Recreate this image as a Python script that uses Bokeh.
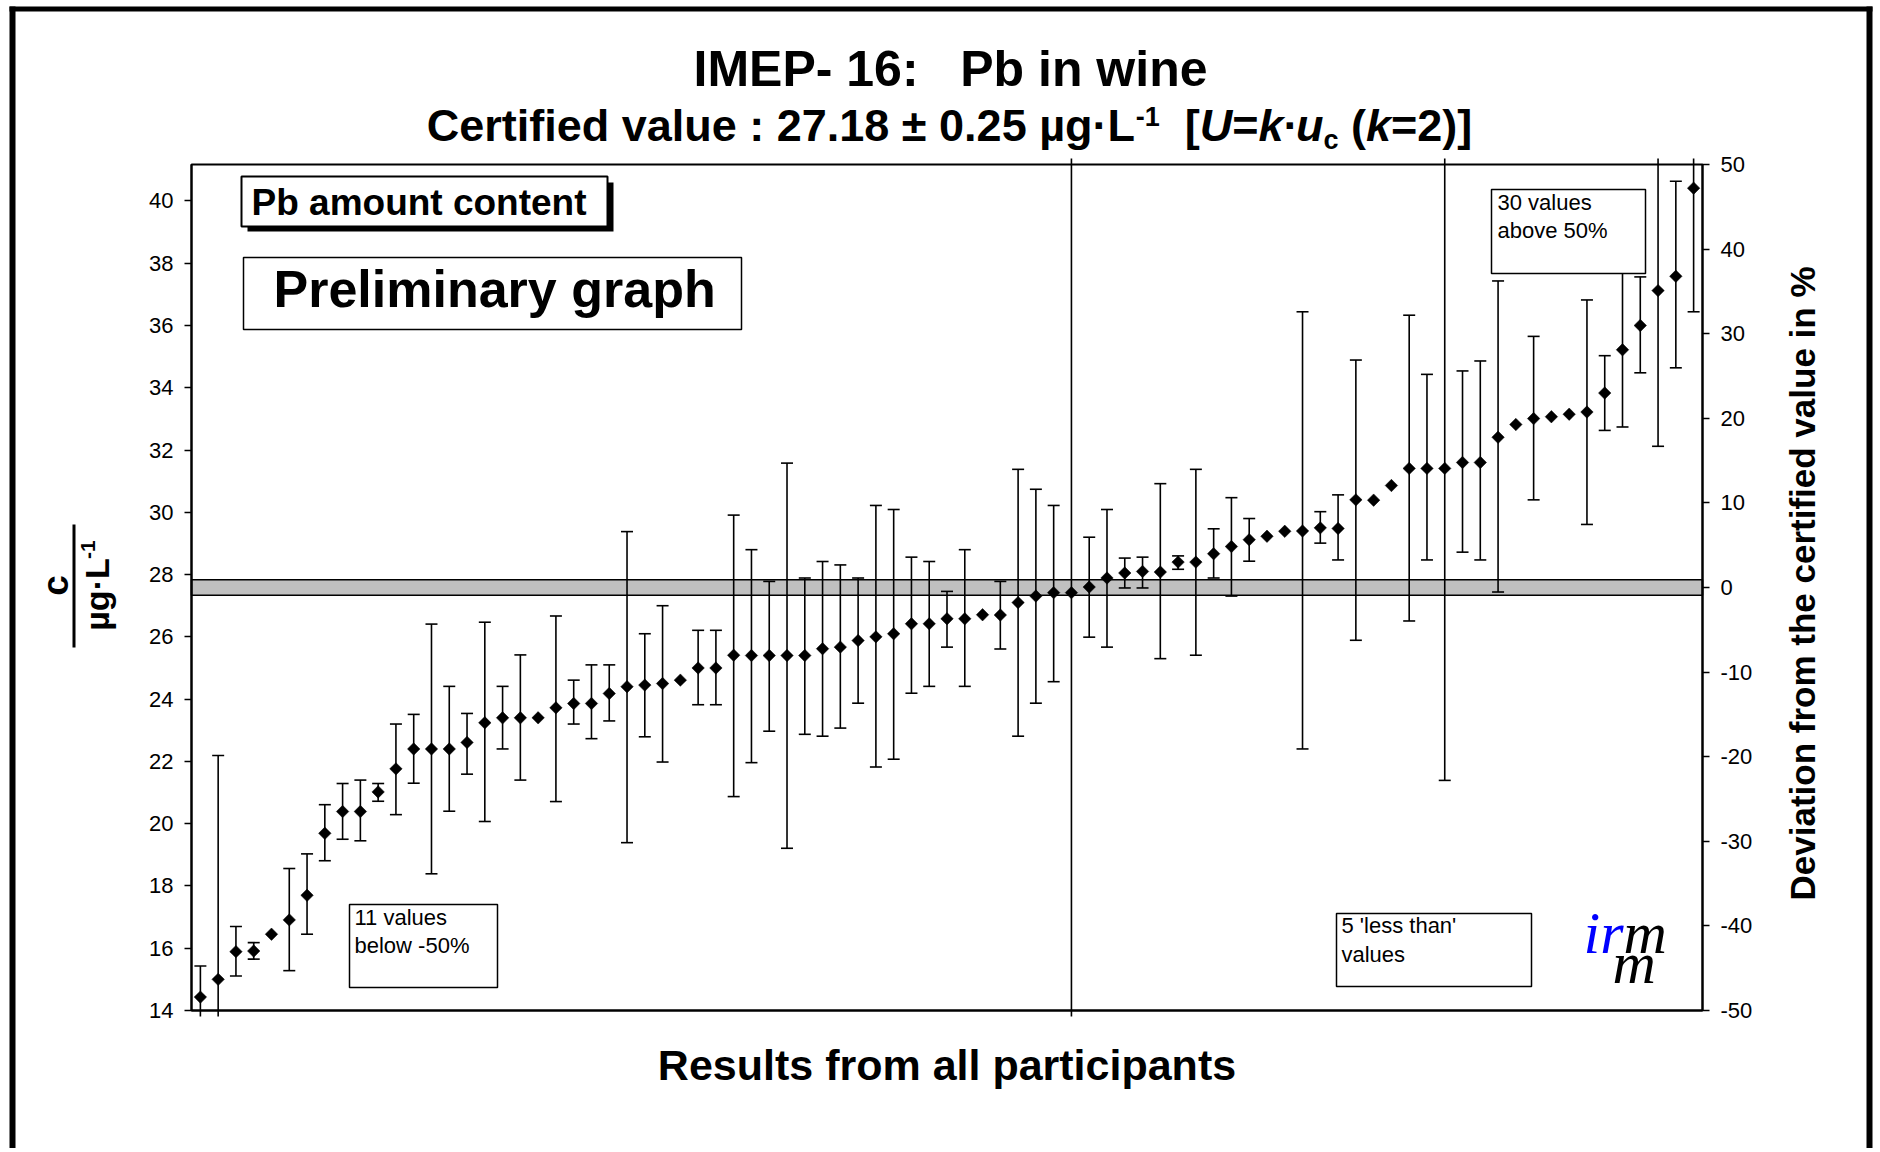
import re
import numpy as np
from bokeh.plotting import figure
from bokeh.models import (Range1d, LinearAxis, FixedTicker, ColumnDataSource,
                          BoxAnnotation, Label)
from bokeh.embed import file_html
from bokeh.resources import INLINE

# ---------------- data ----------------
participant = list(range(1, 86))
value = [14.43, 15.00, 15.89, 15.91, 16.45, 16.91, 17.70, 19.69, 20.39, 20.39,
         21.02, 21.76, 22.40, 22.40, 22.40, 22.61, 23.24, 23.40, 23.40, 23.40,
         23.72, 23.86, 23.86, 24.18, 24.40, 24.45, 24.50, 24.61, 25.00, 25.00,
         25.41, 25.40, 25.40, 25.40, 25.40, 25.62, 25.67, 25.88, 26.00, 26.10,
         26.42, 26.42, 26.58, 26.58, 26.71, 26.70, 27.10, 27.31, 27.42, 27.42,
         27.60, 27.89, 28.05, 28.10, 28.08, 28.40, 28.40, 28.67, 28.90, 29.12,
         29.23, 29.39, 29.40, 29.50, 29.48, 30.40, 30.39, 30.86, 31.41, 31.41,
         31.41, 31.60, 31.60, 32.41, 32.82, 33.01, 33.07, 33.15, 33.22, 33.83,
         35.22, 36.00, 37.12, 37.58, 40.41]
lower = [13.43, 7.80, 15.11, 15.65, None, 15.28, 16.45, 18.81, 19.50, 19.45,
         20.72, 20.29, 21.30, 18.39, 20.40, 21.59, 20.07, 22.40, 21.40, None,
         20.71, 23.20, 22.73, 23.30, 19.39, 22.79, 21.98, None, 23.82, 23.82,
         20.87, 21.96, 22.97, 19.21, 22.87, 22.81, 23.07, 23.87, 21.82, 22.07,
         24.19, 24.41, 25.67, 24.41, None, 25.61, 22.81, 23.87, 24.56, 7.40,
         25.99, 25.67, 27.57, 27.57, 25.30, 28.17, 25.41, 27.89, 27.31, 28.43,
         None, None, 22.40, 29.01, 28.47, 25.89, None, None, 26.51, 28.47,
         21.39, 28.72, 28.47, 27.44, None, 30.40, None, None, 29.61, 32.63,
         32.74, 34.48, 32.12, 34.64, 36.44]
upper = [15.43, 22.19, 16.70, 16.18, None, 18.56, 19.03, 20.61, 21.29, 21.40,
         21.29, 23.20, 23.51, 26.41, 24.41, 23.54, 26.47, 24.41, 25.42, None,
         26.67, 24.61, 25.10, 25.10, 29.38, 26.10, 27.00, None, 26.21, 26.21,
         29.91, 28.80, 27.78, 31.58, 27.89, 28.42, 28.31, 27.89, 30.22, 30.09,
         28.56, 28.42, 27.46, 28.80, None, 27.78, 31.38, 30.74, 30.22, 47.40,
         29.20, 30.09, 28.53, 28.56, 30.92, 28.60, 31.38, 29.47, 30.47, 29.80,
         None, None, 36.44, 30.02, 30.56, 34.89, None, None, 36.33, 34.43,
         41.43, 34.54, 34.86, 37.43, None, 35.65, None, None, 36.82, 35.03,
         37.72, 37.56, 42.12, 40.63, 44.38]
cert_value = 27.18          # µg/L
cert_U = 0.25               # expanded uncertainty, k=2
left_ticks = list(range(14, 41, 2))
right_ticks = list(range(-50, 51, 10))

# ---------------- layout (page pixels; the canvas starts at 0,0) ----------------
W, H = 1874, 1148
FL, FR, FT, FB = 191, 1702, 164, 1010       # plot area edges
XMIN, XMAX = 0.5, 85.5
YMIN, YMAX = 14.0, 41.17
PMIN, PMAX = -50.0, 50.0
SANS = "Liberation Sans"
MID = 0.3465          # (ascent - descent) / 2 of Liberation Sans, in em

# the figure frame fills the canvas; the plot area is bounded by the axes
kx = (FR - FL) / (XMAX - XMIN)
ky = (FB - FT) / (YMAX - YMIN)
kp = (FB - FT) / (PMAX - PMIN)
x_range = Range1d(XMIN - FL / kx, XMAX + (W - FR) / kx)
y_range = Range1d(YMIN - (H - FB) / ky, YMAX + FT / ky)
pct_range = Range1d(PMIN - (H - FB) / kp, PMAX + FT / kp)

p = figure(width=W, height=H, output_backend="svg", toolbar_location=None,
           x_range=x_range, y_range=y_range, min_border=0,
           background_fill_color="white", border_fill_color="white")
p.grid.visible = False
p.outline_line_color = None
p.extra_y_ranges = {"pct": pct_range}


def style_axis(a, ticks):
    a.ticker = FixedTicker(ticks=ticks)
    a.major_label_overrides = {t: str(t) for t in ticks}   # plain hyphen minus
    a.minor_tick_line_color = None
    a.major_tick_out = 7
    a.major_tick_in = 0
    a.major_tick_line_width = 1.5
    a.axis_line_width = 2
    a.major_label_standoff = 11
    a.major_label_text_font = SANS
    a.major_label_text_font_size = "22px"
    a.major_label_text_color = "black"


# left axis (concentration)
ya = p.yaxis[0]
ya.fixed_location = XMIN
ya.bounds = (YMIN, YMAX)
style_axis(ya, left_ticks)

# right axis (% deviation from certified value)
ra = LinearAxis(y_range_name="pct", fixed_location=XMAX, bounds=(PMIN, PMAX))
style_axis(ra, right_ticks)
p.add_layout(ra, "right")

# bottom axis: line + title only
xa = p.xaxis[0]
xa.ticker = FixedTicker(ticks=[])
xa.fixed_location = YMIN
xa.bounds = (XMIN, XMAX)
xa.major_tick_out = 0
xa.major_tick_in = 0
xa.minor_tick_line_color = None
xa.axis_line_width = 2
xa.axis_label = "Results from all participants"
xa.axis_label_text_font = SANS
xa.axis_label_text_font_style = "bold"
xa.axis_label_text_font_size = "43px"
xa.axis_label_text_color = "black"
xa.axis_label_standoff = 30

# certified value band (in % of certified value, on the right axis)
band = 100.0 * cert_U / cert_value
p.add_layout(BoxAnnotation(left=XMIN, right=XMAX, bottom=-band, top=band,
                           y_range_name="pct", fill_color="#C0C0C0",
                           fill_alpha=1.0, line_color="black", line_alpha=1.0,
                           line_width=1.5, level="underlay"))
# plot area border
p.add_layout(BoxAnnotation(left=XMIN, right=XMAX, bottom=YMIN, top=YMAX,
                           fill_alpha=0.0, line_color="black", line_alpha=1.0,
                           line_width=2, level="underlay"))

# error bars, cut a few pixels beyond the plot area like the original
ext = 6.0 / ky
idx = [i for i in range(len(participant)) if lower[i] is not None]
ex = [participant[i] for i in idx]
lo = np.array([lower[i] for i in idx])
hi = np.array([upper[i] for i in idx])
err = ColumnDataSource(dict(x=ex, lo=np.clip(lo, YMIN - ext, YMAX + ext),
                            hi=np.clip(hi, YMIN - ext, YMAX + ext)))
p.segment(x0="x", y0="lo", x1="x", y1="hi", source=err,
          line_color="black", line_width=1.6)
cap_lo = ColumnDataSource(dict(x=[x for x, v in zip(ex, lo) if v >= YMIN],
                               y=[v for v in lo if v >= YMIN]))
cap_hi = ColumnDataSource(dict(x=[x for x, v in zip(ex, hi) if v <= YMAX],
                               y=[v for v in hi if v <= YMAX]))
for src in (cap_lo, cap_hi):
    p.scatter(x="x", y="y", source=src, marker="dash", size=12,
              line_color="black", line_width=1.6)

pts = ColumnDataSource(dict(x=participant, y=value))
p.scatter(x="x", y="y", source=pts, marker="square", angle=np.pi / 4,
          size=8.8, fill_color="black", line_color="black", line_width=0.5)


# ---------------- annotations placed in page pixels ----------------
def keep_spaces(s):
    # SVG collapses runs of blanks: protect leading and repeated spaces
    s = re.sub(r"^ +", lambda m: "\u00a0" * len(m.group()), s)
    return re.sub(r"  +", lambda m: " " + "\u00a0" * (len(m.group()) - 1), s)


def lab(text, X, Y, size, style="normal", font=SANS, align="left",
        color="black", angle=0.0, middle=False):
    """(X, Y) is the baseline anchor unless middle=True."""
    if not middle:
        if angle == 0.0:
            Y = Y - MID * size
        else:                      # rotated 90°: text 'down' is +x
            X = X - MID * size
    p.add_layout(Label(x=X, y=H - Y, x_units="screen", y_units="screen",
                       text=keep_spaces(text), text_font=font,
                       text_font_size=f"{size}px", text_font_style=style,
                       text_align=align, text_baseline="middle",
                       text_color=color, angle=angle))


def box(X0, Y0, X1, Y1, fill="white", line="black", lw=1.5):
    p.add_layout(BoxAnnotation(left=X0, right=X1, top=H - Y0, bottom=H - Y1,
                               left_units="screen", right_units="screen",
                               top_units="screen", bottom_units="screen",
                               fill_color=fill, fill_alpha=1.0,
                               line_color=line, line_alpha=1.0, line_width=lw))


# outer frame of the page
box(9, 6, 15, H + 10, fill="black", line=None)
box(9, 6, 1872, 11, fill="black", line=None)
box(1866, 6, 1872, H + 10, fill="black", line=None)

# Arial Bold advance widths (1/1000 em); Liberation Sans is metric compatible
AW = {' ': 278, '(': 333, ')': 333, '-': 333, '.': 278, ':': 333, '=': 584,
      '[': 333, ']': 333, '±': 584, 'µ': 611, '·': 278, 'C': 722, 'L': 611,
      'U': 722, 'a': 556, 'c': 556, 'd': 611, 'e': 556, 'f': 333, 'g': 611,
      'i': 278, 'k': 556, 'l': 278, 'r': 389, 't': 333, 'u': 611, 'v': 556}


def tw(s, size):
    return sum(AW.get(ch, 556) for ch in s) * size / 1000.0


# title
lab("IMEP- 16:   Pb in wine", 950, 86, 50, "bold", align="center")

# subtitle composed of pieces (superscript, italics, subscript)
S, SS = 45, 27
pieces = [("Certified value : 27.18 ± 0.25 µg·L", "bold", S, 0),
          ("-1", "bold", SS, -16),
          ("  [", "bold", S, 0),
          ("U", "bold italic", S, 0),
          ("=", "bold", S, 0),
          ("k", "bold italic", S, 0),
          ("·", "bold", S, 0),
          ("u", "bold italic", S, 0),
          ("c", "bold", SS, 8),
          (" (", "bold", S, 0),
          ("k", "bold italic", S, 0),
          ("=2)]", "bold", S, 0)]
total = sum(tw(t, sz) for t, _, sz, _ in pieces)
X = 949 - total / 2
for t, st, sz, dy in pieces:
    lab(t, X, 141 + dy, sz, st)
    X += tw(t, sz)

# left axis title as a fraction  c / µg·L-1  (rotated, reads bottom to top)
lab("c", 68, 585, 37, "bold", align="center", angle=np.pi / 2)
box(72, 524, 75, 647, fill="black", line=None)
DEN, SUP = 34, 21
den = tw("µg·L", DEN) + tw("-1", SUP)
Y0 = 585 + den / 2
lab("µg·L", 108, Y0, DEN, "bold", angle=np.pi / 2)
lab("-1", 95, Y0 - tw("µg·L", DEN), SUP, "bold", angle=np.pi / 2)

# right axis title
lab("Deviation from the certified value in %", 1802, 583, 35, "bold",
    align="center", angle=np.pi / 2, middle=True)

# text boxes inside the plot
box(247, 182, 613, 231, fill="black", line=None)
box(241, 176, 607, 226, fill="white", line="black", lw=2)
lab("Pb amount content", 251, 215, 37, "bold")

box(243, 257, 741, 329, fill="white", line="black", lw=1.5)
lab("Preliminary graph", 273, 307, 52, "bold")

box(349, 904, 497, 987)
lab("11 values", 354, 925, 22)
lab("below -50%", 354, 953, 22)

box(1491, 189, 1645, 273)
lab("30 values", 1497, 210, 22)
lab("above 50%", 1497, 238, 22)

box(1336, 913, 1531, 986)
lab("5 'less than'", 1341, 933, 22)
lab("values", 1341, 962, 22)

# irm logo
lab("ir", 1583, 953, 60, "italic", font="Liberation Serif", color="#0000FF")
lab("m", 1623, 953, 60, "italic", font="Liberation Serif")
lab("m", 1612, 983, 60, "italic", font="Liberation Serif")

open("out.html", "w").write(file_html(p, INLINE))
